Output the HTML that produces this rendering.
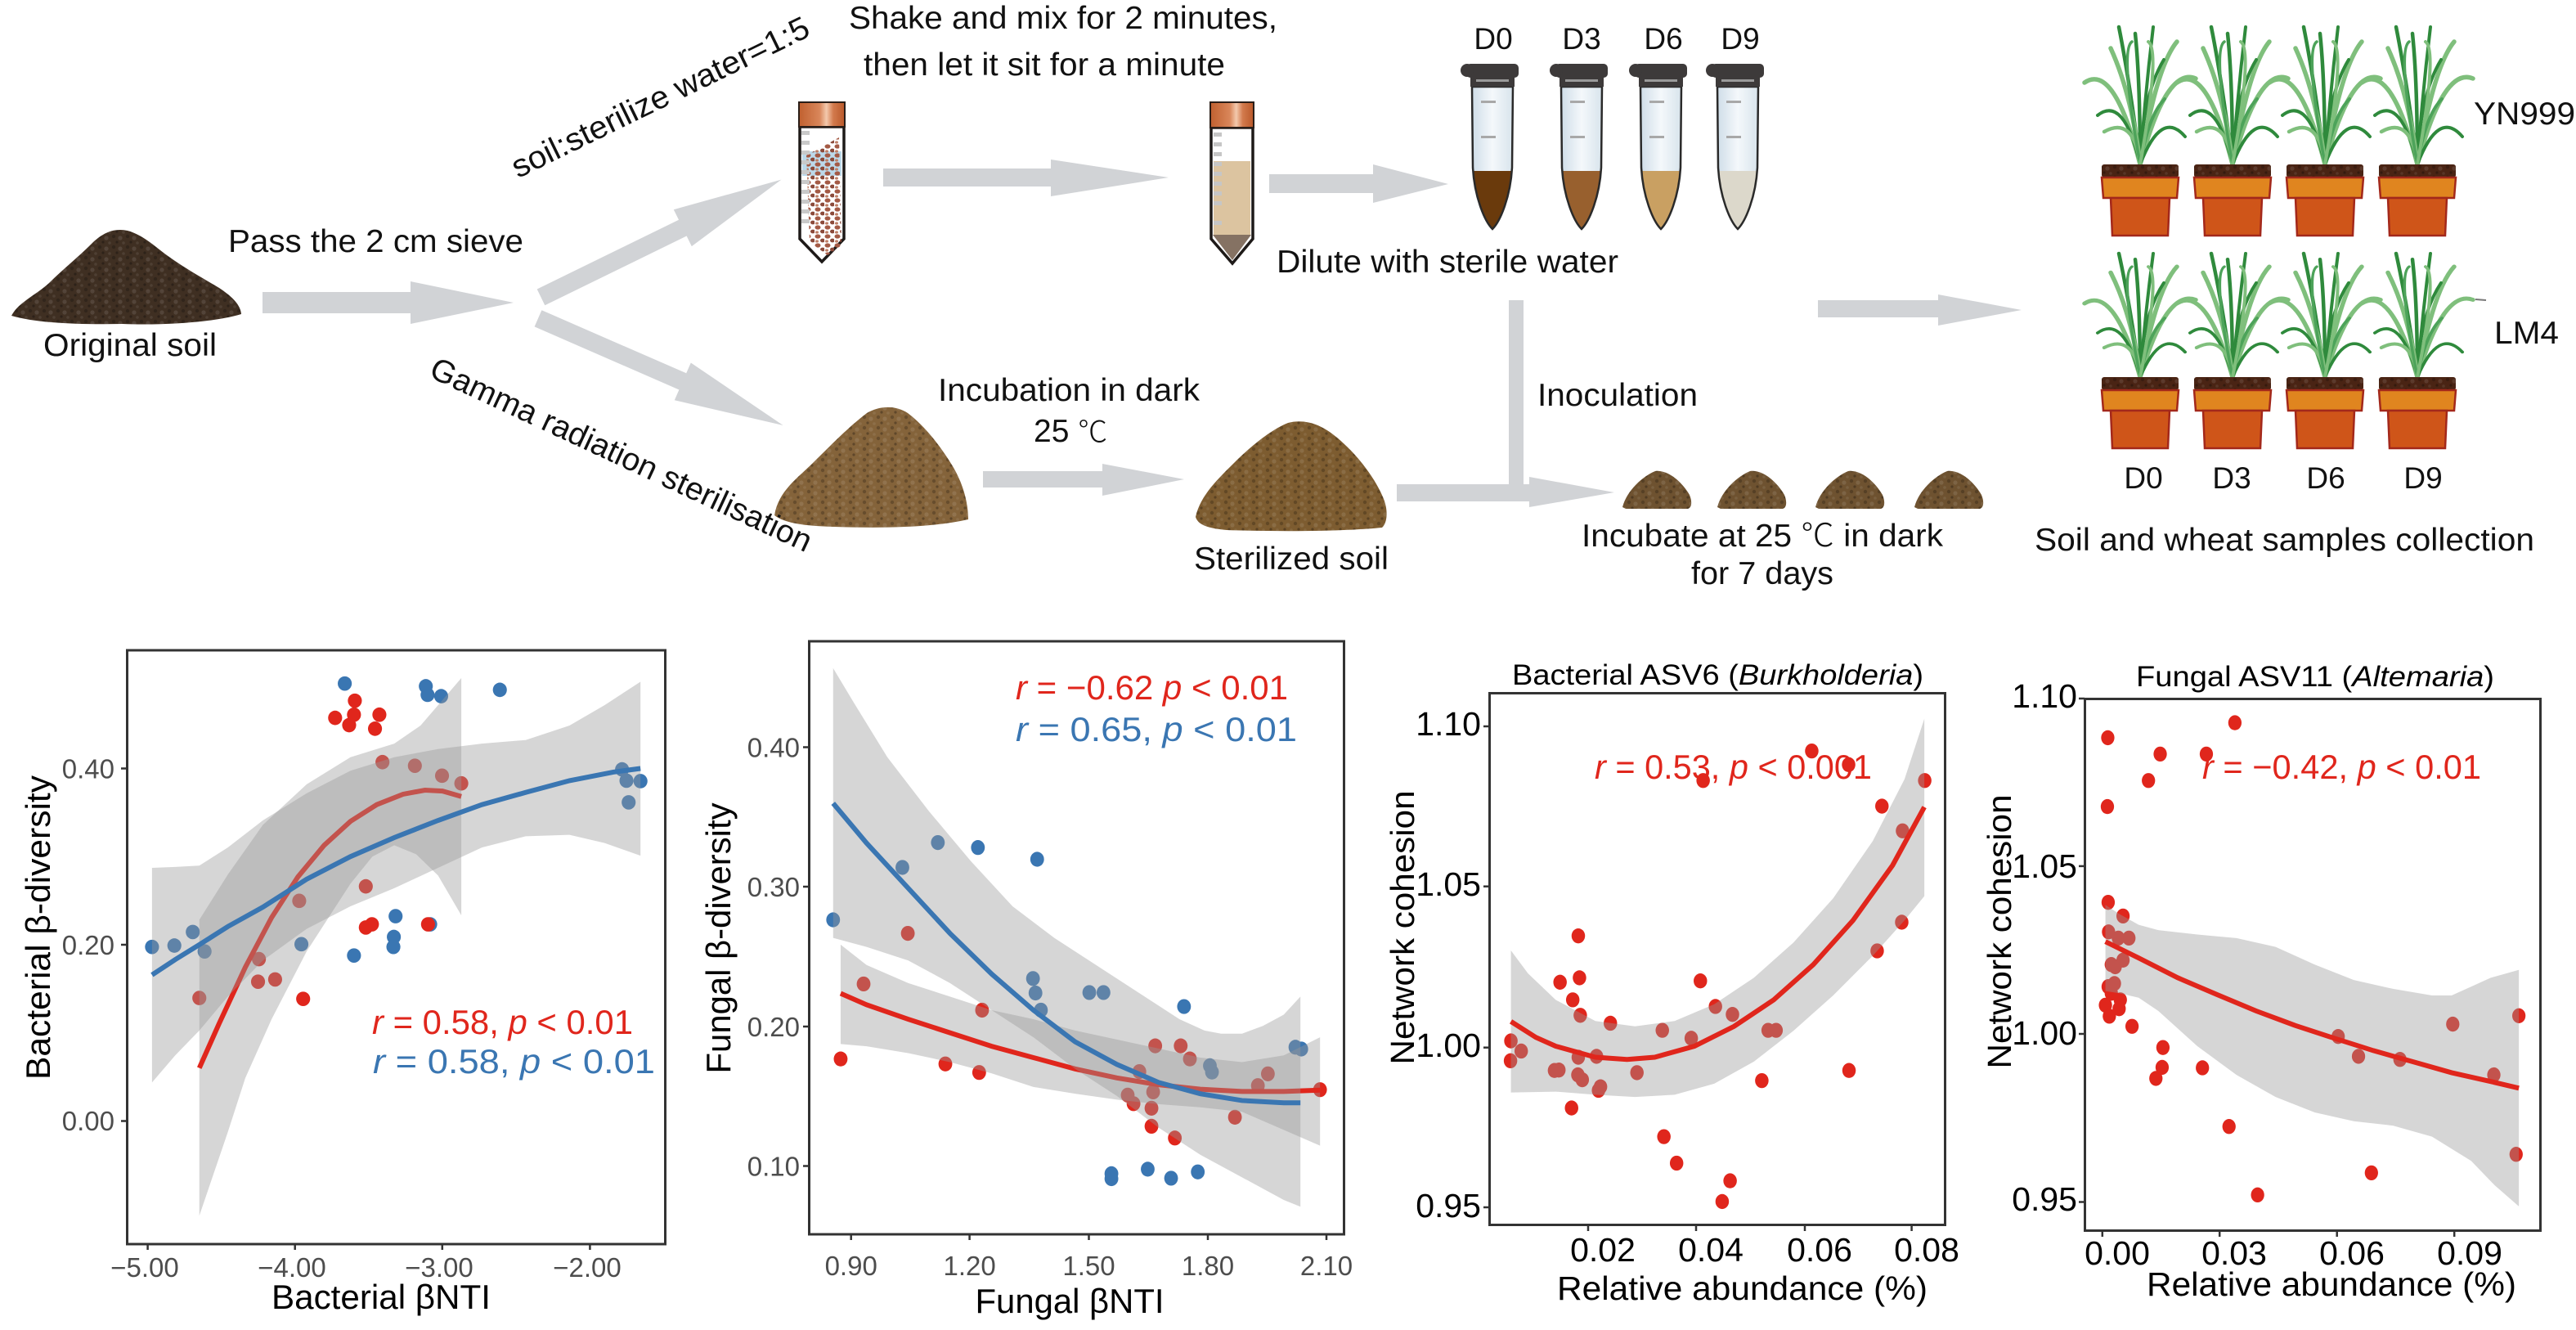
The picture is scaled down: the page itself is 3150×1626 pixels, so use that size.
<!DOCTYPE html>
<html><head><meta charset="utf-8"><style>
html,body{margin:0;padding:0;background:#fff;}
svg{display:block;}
text{font-family:"Liberation Sans","Noto Sans CJK SC",sans-serif;}
</style></head><body>
<svg width="3150" height="1626" viewBox="0 0 3150 1626" xmlns="http://www.w3.org/2000/svg">
<defs>
 <pattern id="tex" width="17" height="13" patternUnits="userSpaceOnUse">
  <circle cx="3" cy="3" r="2.2" fill="#000" opacity=".22"/>
  <circle cx="11" cy="5" r="2.6" fill="#fff" opacity=".10"/>
  <circle cx="7" cy="10" r="1.6" fill="#000" opacity=".28"/>
  <circle cx="15" cy="11" r="1.8" fill="#fff" opacity=".08"/>
 </pattern>
 <pattern id="parts" width="12" height="11" patternUnits="userSpaceOnUse">
  <ellipse cx="4" cy="3" rx="3.5" ry="2.6" fill="#a45a45"/>
  <ellipse cx="10" cy="8" rx="3" ry="2.4" fill="#8b4a3a"/>
  <ellipse cx="3" cy="9" rx="2" ry="1.6" fill="#c08068"/>
 </pattern>
 <linearGradient id="tubeG" x1="0" x2="1" y1="0" y2="0">
  <stop offset="0" stop-color="#cfdde8"/><stop offset=".5" stop-color="#f4f8fb"/><stop offset="1" stop-color="#d8e4ec"/>
 </linearGradient>
 <linearGradient id="capG" x1="0" x2="1" y1="0" y2="0">
  <stop offset="0" stop-color="#c0602f"/><stop offset=".45" stop-color="#d9865a"/><stop offset=".6" stop-color="#f3c9ad"/><stop offset=".75" stop-color="#d27a4c"/><stop offset="1" stop-color="#b9582a"/>
 </linearGradient>
 <g id="plant" fill="none" stroke-linecap="round">
  <path d="M0,0 Q-13,-103 -26,-168" stroke="#2f8a3c" stroke-width="4.5"/>
  <path d="M0,0 Q-32,-125 -68,-100" stroke="#7fbf7c" stroke-width="5.5"/>
  <path d="M0,0 Q-20,-85 -52,-60" stroke="#2f8a3c" stroke-width="4"/>
  <path d="M0,0 Q0,-103 -6,-160" stroke="#2f8a3c" stroke-width="4.5"/>
  <path d="M0,0 Q6,-85 16,-168" stroke="#2f8a3c" stroke-width="4"/>
  <path d="M0,0 Q20,-120 45,-150" stroke="#7fbf7c" stroke-width="5.5"/>
  <path d="M0,0 Q32,-120 68,-105" stroke="#7fbf7c" stroke-width="5.5"/>
  <path d="M0,0 Q26,-68 55,-34" stroke="#2f8a3c" stroke-width="4"/>
  <path d="M0,0 Q3,-85 29,-128" stroke="#2f8a3c" stroke-width="4"/>
  <path d="M0,0 Q-10,-85 -36,-142" stroke="#7fbf7c" stroke-width="5.5"/>
  <path d="M0,0 Q-8,-60 -44,-40" stroke="#7fbf7c" stroke-width="4.5"/>
  <path d="M0,0 Q10,-60 30,-80" stroke="#4da35a" stroke-width="4"/>
  <path d="M0,0 Q-25,-140 -10,-150" stroke="#4da35a" stroke-width="3.5"/>
  <path d="M0,0 Q25,-140 10,-150" stroke="#7fbf7c" stroke-width="4"/>
 </g>
 <g id="pot">
  <rect x="-47" y="0" width="94" height="16" rx="3" fill="#4a2414"/>
  <rect x="-47" y="0" width="94" height="16" rx="3" fill="url(#tex)"/>
  <path d="M-47,16 L47,16 L45,41 L-45,41 Z" fill="#e0851f" stroke="#a3281b" stroke-width="2.5"/>
  <path d="M-36,41 L36,41 L34,87 L-34,87 Z" fill="#cf5519" stroke="#a3281b" stroke-width="2.5"/>
 </g>
</defs>

<!-- ===== TOP SCHEMATIC ===== -->
<g fill="#d1d3d6">
 <polygon points="321,357 502,357 502,344 628,370 502,396 502,383 321,383"/>
 <polygon points="656.7,353.5 830,268.7 823.8,256.2 955.4,219.6 845.8,301.1 839.6,288.5 666.3,373.3"/>
 <polygon points="662.4,379.2 839.2,456.3 844.8,443.5 957.6,520 824.8,489.3 830.4,476.5 653.6,399.4"/>
 <polygon points="1080,206 1285,206 1285,195 1429,217 1285,240 1285,228 1080,228"/>
 <polygon points="1552,213 1679,213 1679,201 1771,225 1679,248 1679,236 1552,236"/>
 <polygon points="1202,576 1348,576 1348,567 1448,586 1348,606 1348,596 1202,596"/>
 <rect x="1845" y="367" width="18" height="246"/>
 <polygon points="1708,592 1870,592 1870,583 1974,602 1870,620 1870,613 1708,613"/>
 <polygon points="2223,367 2370,367 2370,360 2472,379 2370,398 2370,388 2223,388"/>
</g>

<!-- soil piles -->
<path d="M14,386 C22,370 45,360 60,346 C76,330 96,314 112,298 C124,286 138,278 156,282 C174,287 188,300 204,312 C226,328 248,340 268,352 C283,362 294,372 295,384 C262,394 200,398 150,396 C95,397 45,395 14,386 Z" fill="#3f2f22"/>
<path d="M14,386 C22,370 45,360 60,346 C76,330 96,314 112,298 C124,286 138,278 156,282 C174,287 188,300 204,312 C226,328 248,340 268,352 C283,362 294,372 295,384 C262,394 200,398 150,396 C95,397 45,395 14,386 Z" fill="url(#tex)"/>
<path d="M947,630 C952,600 975,585 995,565 C1015,545 1040,520 1060,505 C1075,496 1095,495 1110,505 C1130,520 1150,545 1165,570 C1178,592 1184,615 1184,635 C1140,645 1080,646 1020,644 C985,643 960,640 947,630 Z" fill="#84633a"/>
<path d="M947,630 C952,600 975,585 995,565 C1015,545 1040,520 1060,505 C1075,496 1095,495 1110,505 C1130,520 1150,545 1165,570 C1178,592 1184,615 1184,635 C1140,645 1080,646 1020,644 C985,643 960,640 947,630 Z" fill="url(#tex)"/>
<path d="M1462,632 C1468,605 1490,585 1510,565 C1530,545 1555,525 1575,517 C1595,512 1615,518 1635,535 C1660,556 1682,585 1692,610 C1698,625 1696,640 1690,645 C1640,650 1560,650 1500,648 C1478,646 1465,642 1462,632 Z" fill="#7d5c30"/>
<path d="M1462,632 C1468,605 1490,585 1510,565 C1530,545 1555,525 1575,517 C1595,512 1615,518 1635,535 C1660,556 1682,585 1692,610 C1698,625 1696,640 1690,645 C1640,650 1560,650 1500,648 C1478,646 1465,642 1462,632 Z" fill="url(#tex)"/>
<g fill="#6e5230">
 <path d="M1984,620 C1989,600 2009,582 2024,576 C2039,574 2056,588 2066,605 C2070,615 2068,621 2064,622 L1988,622 Z"/>
 <path d="M2100,620 C2105,600 2125,582 2140,576 C2155,574 2172,588 2182,605 C2186,615 2184,621 2180,622 L2104,622 Z"/>
 <path d="M2220,620 C2225,600 2245,582 2260,576 C2275,574 2292,588 2302,605 C2306,615 2304,621 2300,622 L2224,622 Z"/>
 <path d="M2341,620 C2346,600 2366,582 2381,576 C2396,574 2413,588 2423,605 C2427,615 2425,621 2421,622 L2345,622 Z"/>
</g>
<g fill="url(#tex)">
 <path d="M1984,620 C1989,600 2009,582 2024,576 C2039,574 2056,588 2066,605 C2070,615 2068,621 2064,622 L1988,622 Z"/>
 <path d="M2100,620 C2105,600 2125,582 2140,576 C2155,574 2172,588 2182,605 C2186,615 2184,621 2180,622 L2104,622 Z"/>
 <path d="M2220,620 C2225,600 2245,582 2260,576 C2275,574 2292,588 2302,605 C2306,615 2304,621 2300,622 L2224,622 Z"/>
 <path d="M2341,620 C2346,600 2366,582 2381,576 C2396,574 2413,588 2423,605 C2427,615 2425,621 2421,622 L2345,622 Z"/>
</g>

<!-- falcon tube 1 -->
<path d="M978,155 L1032,155 L1032,292 L1005,320 L978,292 Z" fill="#fff" stroke="#1e1a18" stroke-width="3.5"/>
<rect x="981" y="185" width="48" height="30" fill="#bcd9ea"/>
<path d="M986,190 L1026,168 L1029,300 L1012,312 L990,296 Z" fill="url(#parts)"/>
<g fill="#c9c9c9"><rect x="980" y="160" width="10" height="5"/><rect x="980" y="172" width="10" height="5"/><rect x="980" y="184" width="10" height="5"/><rect x="980" y="196" width="10" height="5"/><rect x="980" y="208" width="10" height="5"/><rect x="980" y="220" width="10" height="5"/><rect x="980" y="232" width="10" height="5"/><rect x="980" y="244" width="10" height="5"/><rect x="980" y="256" width="10" height="5"/><rect x="980" y="268" width="10" height="5"/></g>
<rect x="977" y="125" width="56" height="30" fill="url(#capG)" stroke="#2a1e18" stroke-width="2"/>
<!-- falcon tube 2 -->
<path d="M1481,156 L1532,156 L1532,292 L1507,322 L1481,292 Z" fill="#fff" stroke="#1e1a18" stroke-width="3.5"/>
<rect x="1484" y="197" width="45" height="92" fill="#dcc4a0"/>
<path d="M1483,287 L1530,287 L1507,318 Z" fill="#857263"/>
<g fill="#c6c6c6"><rect x="1484" y="162" width="10" height="5"/><rect x="1484" y="174" width="10" height="5"/><rect x="1484" y="186" width="10" height="5"/><rect x="1484" y="198" width="10" height="5"/><rect x="1484" y="210" width="10" height="5"/><rect x="1484" y="222" width="10" height="5"/><rect x="1484" y="234" width="10" height="5"/><rect x="1484" y="246" width="10" height="5"/><rect x="1484" y="270" width="10" height="5"/></g>
<rect x="1480" y="125" width="53" height="31" fill="url(#capG)" stroke="#2a1e18" stroke-width="2"/>

<!-- eppendorf tubes -->
<g transform="translate(1825,0)">
 <path d="M-25,106 L25,106 L24,205 C22,240 10,270 0,280 C-10,270 -22,240 -24,205 Z" fill="url(#tubeG)"/>
 <path d="M-24,209 L24,209 C22,240 10,270 0,280 C-10,270 -22,240 -24,209 Z" fill="#6a3a0c"/>
 <path d="M-25,106 L25,106 L24,205 C22,240 10,270 0,280 C-10,270 -22,240 -24,205 Z" fill="none" stroke="#2a2a2a" stroke-width="2.5"/>
 <rect x="-14" y="123" width="18" height="3" fill="#a8a8a8"/><rect x="-14" y="166" width="18" height="3" fill="#a8a8a8"/>
 <rect x="-32" y="78" width="64" height="17" rx="5" fill="#3d3a3a"/><circle cx="-31" cy="86" r="8" fill="#3d3a3a"/>
 <rect x="-27" y="93" width="54" height="13" fill="#3d3a3a"/><rect x="-20" y="97" width="40" height="3" fill="#9a9a9a"/>
</g>
<g transform="translate(1934,0)">
 <path d="M-25,106 L25,106 L24,205 C22,240 10,270 0,280 C-10,270 -22,240 -24,205 Z" fill="url(#tubeG)"/>
 <path d="M-24,209 L24,209 C22,240 10,270 0,280 C-10,270 -22,240 -24,209 Z" fill="#98602e"/>
 <path d="M-25,106 L25,106 L24,205 C22,240 10,270 0,280 C-10,270 -22,240 -24,205 Z" fill="none" stroke="#2a2a2a" stroke-width="2.5"/>
 <rect x="-14" y="123" width="18" height="3" fill="#a8a8a8"/><rect x="-14" y="166" width="18" height="3" fill="#a8a8a8"/>
 <rect x="-32" y="78" width="64" height="17" rx="5" fill="#3d3a3a"/><circle cx="-31" cy="86" r="8" fill="#3d3a3a"/>
 <rect x="-27" y="93" width="54" height="13" fill="#3d3a3a"/><rect x="-20" y="97" width="40" height="3" fill="#9a9a9a"/>
</g>
<g transform="translate(2031,0)">
 <path d="M-25,106 L25,106 L24,205 C22,240 10,270 0,280 C-10,270 -22,240 -24,205 Z" fill="url(#tubeG)"/>
 <path d="M-24,209 L24,209 C22,240 10,270 0,280 C-10,270 -22,240 -24,209 Z" fill="#c9a062"/>
 <path d="M-25,106 L25,106 L24,205 C22,240 10,270 0,280 C-10,270 -22,240 -24,205 Z" fill="none" stroke="#2a2a2a" stroke-width="2.5"/>
 <rect x="-14" y="123" width="18" height="3" fill="#a8a8a8"/><rect x="-14" y="166" width="18" height="3" fill="#a8a8a8"/>
 <rect x="-32" y="78" width="64" height="17" rx="5" fill="#3d3a3a"/><circle cx="-31" cy="86" r="8" fill="#3d3a3a"/>
 <rect x="-27" y="93" width="54" height="13" fill="#3d3a3a"/><rect x="-20" y="97" width="40" height="3" fill="#9a9a9a"/>
</g>
<g transform="translate(2125,0)">
 <path d="M-25,106 L25,106 L24,205 C22,240 10,270 0,280 C-10,270 -22,240 -24,205 Z" fill="url(#tubeG)"/>
 <path d="M-24,209 L24,209 C22,240 10,270 0,280 C-10,270 -22,240 -24,209 Z" fill="#dcd8cb"/>
 <path d="M-25,106 L25,106 L24,205 C22,240 10,270 0,280 C-10,270 -22,240 -24,205 Z" fill="none" stroke="#2a2a2a" stroke-width="2.5"/>
 <rect x="-14" y="123" width="18" height="3" fill="#a8a8a8"/><rect x="-14" y="166" width="18" height="3" fill="#a8a8a8"/>
 <rect x="-32" y="78" width="64" height="17" rx="5" fill="#3d3a3a"/><circle cx="-31" cy="86" r="8" fill="#3d3a3a"/>
 <rect x="-27" y="93" width="54" height="13" fill="#3d3a3a"/><rect x="-20" y="97" width="40" height="3" fill="#9a9a9a"/>
</g>

<!-- plants and pots -->
<use href="#plant" transform="translate(2617,201)"/>
<use href="#plant" transform="translate(2730,201)"/>
<use href="#plant" transform="translate(2843,201)"/>
<use href="#plant" transform="translate(2956,201)"/>
<use href="#pot" transform="translate(2617,201)"/>
<use href="#pot" transform="translate(2730,201)"/>
<use href="#pot" transform="translate(2843,201)"/>
<use href="#pot" transform="translate(2956,201)"/>
<use href="#plant" transform="translate(2617,461) scale(1,0.9)"/>
<use href="#plant" transform="translate(2730,461) scale(1,0.9)"/>
<use href="#plant" transform="translate(2843,461) scale(1,0.9)"/>
<use href="#plant" transform="translate(2956,461) scale(1,0.9)"/>
<use href="#pot" transform="translate(2617,461)"/>
<use href="#pot" transform="translate(2730,461)"/>
<use href="#pot" transform="translate(2843,461)"/>
<use href="#pot" transform="translate(2956,461)"/>
<line x1="3027" y1="366" x2="3040" y2="367" stroke="#777" stroke-width="2"/>

<!-- schematic text -->
<g fill="#111" font-size="39">
 <text x="53" y="435" textLength="212" lengthAdjust="spacingAndGlyphs">Original soil</text>
 <text x="279" y="308" textLength="361" lengthAdjust="spacingAndGlyphs">Pass the 2 cm sieve</text>
 <text transform="translate(807,118) rotate(-26)" text-anchor="middle" dy="14" textLength="400" lengthAdjust="spacingAndGlyphs">soil:sterilize water=1:5</text>
 <text transform="translate(760,555) rotate(25)" text-anchor="middle" dy="14" textLength="510" lengthAdjust="spacingAndGlyphs">Gamma radiation sterilisation</text>
 <text x="1038" y="35" textLength="524" lengthAdjust="spacingAndGlyphs">Shake and mix for 2 minutes,</text>
 <text x="1056" y="92" textLength="442" lengthAdjust="spacingAndGlyphs">then let it sit for a minute</text>
 <text x="1561" y="333" textLength="418" lengthAdjust="spacingAndGlyphs">Dilute with sterile water</text>
 <text x="1147" y="490" textLength="320" lengthAdjust="spacingAndGlyphs">Incubation in dark</text>
 <text x="1264" y="540">25 <tspan font-family="'Noto Sans CJK SC',sans-serif" font-weight="200" font-size="36">℃</tspan></text>
 <text x="1460" y="696" textLength="238" lengthAdjust="spacingAndGlyphs">Sterilized soil</text>
 <text x="1880" y="496" textLength="196" lengthAdjust="spacingAndGlyphs">Inoculation</text>
 <text x="1934" y="668" textLength="442" lengthAdjust="spacingAndGlyphs">Incubate at 25 <tspan font-family="'Noto Sans CJK SC',sans-serif" font-weight="200">℃</tspan> in dark</text>
 <text x="2068" y="714" textLength="174" lengthAdjust="spacingAndGlyphs">for 7 days</text>
 <text x="2488" y="673" textLength="611" lengthAdjust="spacingAndGlyphs">Soil and wheat samples collection</text>
 <text x="3025" y="152" textLength="124" lengthAdjust="spacingAndGlyphs">YN999</text>
 <text x="3050" y="420" textLength="79" lengthAdjust="spacingAndGlyphs">LM4</text>
</g>
<g fill="#111" font-size="37" text-anchor="middle">
 <text x="1826" y="60">D0</text><text x="1934" y="60">D3</text><text x="2034" y="60">D6</text><text x="2128" y="60">D9</text>
 <text x="2621" y="597">D0</text><text x="2729" y="597">D3</text><text x="2844" y="597">D6</text><text x="2963" y="597">D9</text>
</g>

<!-- ===== CHART 1 ===== -->
<g transform="matrix(0.5357 0 0 0.5523 0 760)">
 <g fill="#3a76b2">
  <circle cx="787" cy="137" r="16"/><circle cx="972" cy="143" r="16"/><circle cx="976" cy="162" r="16"/><circle cx="1007" cy="165" r="16"/><circle cx="1141" cy="151" r="16"/><circle cx="1420" cy="327" r="16"/><circle cx="1430" cy="352" r="16"/><circle cx="1462" cy="353" r="16"/><circle cx="1435" cy="400" r="16"/><circle cx="903" cy="652" r="16"/><circle cx="899" cy="698" r="16"/><circle cx="898" cy="720" r="16"/><circle cx="982" cy="670" r="16"/><circle cx="808" cy="739" r="16"/><circle cx="688" cy="714" r="16"/><circle cx="347" cy="720" r="16"/><circle cx="398" cy="717" r="16"/><circle cx="440" cy="687" r="16"/><circle cx="467" cy="730" r="16"/>
 </g>
 <g fill="#e0261c">
  <circle cx="810" cy="175" r="16"/><circle cx="765" cy="213" r="16"/><circle cx="808" cy="206" r="16"/><circle cx="797" cy="229" r="16"/><circle cx="866" cy="206" r="16"/><circle cx="856" cy="237" r="16"/><circle cx="835" cy="677" r="16"/><circle cx="849" cy="670" r="16"/><circle cx="977" cy="670" r="16"/><circle cx="628" cy="792" r="16"/><circle cx="692" cy="835" r="16"/><circle cx="873" cy="311" r="16"/><circle cx="947" cy="319" r="16"/><circle cx="1009" cy="341" r="16"/><circle cx="1053" cy="358" r="16"/><circle cx="835" cy="586" r="16"/><circle cx="683" cy="618" r="16"/><circle cx="591" cy="747" r="16"/><circle cx="589" cy="797" r="16"/><circle cx="455" cy="833" r="16"/>
 </g>
 <path d="M455,660 L520,560 L600,450 L700,360 L800,300 L900,270 L960,230 L1000,185 L1053,125 L1053,650 L1000,562 L950,515 L900,495 L850,520 L800,580 L700,730 L620,880 L560,1010 L520,1130 L455,1315 Z" fill="#999" fill-opacity="0.4"/>
 <path d="M455,988 L500,890 L560,765 L620,655 L680,565 L740,495 L800,442 L860,405 L920,382 L970,373 L1010,375 L1053,387" fill="none" stroke="#e0261c" stroke-width="6" vector-effect="non-scaling-stroke"/>
 <path d="M347,545 L400,543 L455,540 L520,500 L600,440 L700,380 L800,330 L900,300 L1000,282 L1100,270 L1200,262 L1300,230 L1380,185 L1462,133 L1462,518 L1380,490 L1300,472 L1200,475 L1100,500 L1000,545 L900,590 L800,630 L700,680 L600,750 L520,830 L455,905 L400,960 L347,1020 Z" fill="#999" fill-opacity="0.4"/>
 <path d="M347,782 L400,748 L455,715 L520,675 L600,632 L700,570 L800,520 L900,478 L1000,440 L1100,405 L1200,378 L1300,352 L1400,333 L1462,325" fill="none" stroke="#3a76b2" stroke-width="6" vector-effect="non-scaling-stroke"/>
</g>
<rect x="155.5" y="795" width="658" height="726" fill="none" stroke="#333" stroke-width="3"/>
<g stroke="#333" stroke-width="2.5">
 <line x1="148" y1="939.5" x2="155" y2="939.5"/><line x1="148" y1="1155" x2="155" y2="1155"/><line x1="148" y1="1370.5" x2="155" y2="1370.5"/>
 <line x1="180.6" y1="1521" x2="180.6" y2="1528"/><line x1="360.7" y1="1521" x2="360.7" y2="1528"/><line x1="540.8" y1="1521" x2="540.8" y2="1528"/><line x1="721.4" y1="1521" x2="721.4" y2="1528"/>
</g>
<g fill="#4d4d4d" font-size="33">
 <text x="140" y="951.5" text-anchor="end">0.40</text><text x="140" y="1167" text-anchor="end">0.20</text><text x="140" y="1382" text-anchor="end">0.00</text>
 <text x="177" y="1561" text-anchor="middle">−5.00</text><text x="357" y="1561" text-anchor="middle">−4.00</text><text x="537" y="1561" text-anchor="middle">−3.00</text><text x="718" y="1561" text-anchor="middle">−2.00</text>
</g>
<text x="466" y="1600" font-size="42" text-anchor="middle" fill="#000" textLength="268" lengthAdjust="spacingAndGlyphs">Bacterial βNTI</text>
<text transform="translate(61,1134) rotate(-90)" font-size="42" text-anchor="middle" fill="#000" textLength="372" lengthAdjust="spacingAndGlyphs">Bacterial β-diversity</text>
<text x="455" y="1264" font-size="42" fill="#e0261c" textLength="319" lengthAdjust="spacingAndGlyphs"><tspan font-style="italic">r</tspan> = 0.58, <tspan font-style="italic">p</tspan> &lt; 0.01</text>
<text x="456" y="1312" font-size="42" fill="#3a76b2" textLength="345" lengthAdjust="spacingAndGlyphs"><tspan font-style="italic">r</tspan> = 0.58, <tspan font-style="italic">p</tspan> &lt; 0.01</text>

<!-- ===== CHART 2 ===== -->
<g transform="matrix(0.5102 0 0 0.5523 830 760)">
 <g fill="#3a76b2">
  <circle cx="370" cy="660" r="16.5"/><circle cx="536" cy="544" r="16.5"/><circle cx="621" cy="489" r="16.5"/><circle cx="717" cy="500" r="16.5"/><circle cx="859" cy="526" r="16.5"/><circle cx="849" cy="790" r="16.5"/><circle cx="855" cy="822" r="16.5"/><circle cx="868" cy="860" r="16.5"/><circle cx="984" cy="821" r="16.5"/><circle cx="1018" cy="821" r="16.5"/><circle cx="1211" cy="852" r="16.5"/><circle cx="1273" cy="983" r="16.5"/><circle cx="1278" cy="997" r="16.5"/><circle cx="1478" cy="942" r="16.5"/><circle cx="1492" cy="946" r="16.5"/><circle cx="1037" cy="1222" r="16.5"/><circle cx="1037" cy="1233" r="16.5"/><circle cx="1124" cy="1212" r="16.5"/><circle cx="1180" cy="1232" r="16.5"/><circle cx="1244" cy="1218" r="16.5"/>
 </g>
 <g fill="#e0261c">
  <circle cx="388" cy="968" r="16.5"/><circle cx="443" cy="802" r="16.5"/><circle cx="549" cy="690" r="16.5"/><circle cx="727" cy="860" r="16.5"/><circle cx="639" cy="979" r="16.5"/><circle cx="720" cy="998" r="16.5"/><circle cx="1090" cy="1067" r="16.5"/><circle cx="1076" cy="1048" r="16.5"/><circle cx="1104" cy="996" r="16.5"/><circle cx="1137" cy="1041" r="16.5"/><circle cx="1133" cy="1077" r="16.5"/><circle cx="1142" cy="939" r="16.5"/><circle cx="1203" cy="939" r="16.5"/><circle cx="1225" cy="968" r="16.5"/><circle cx="1133" cy="1117" r="16.5"/><circle cx="1189" cy="1143" r="16.5"/><circle cx="1333" cy="1097" r="16.5"/><circle cx="1388" cy="1027" r="16.5"/><circle cx="1412" cy="1001" r="16.5"/><circle cx="1537" cy="1036" r="16.5"/>
 </g>
 <path d="M388,715 L450,760 L550,800 L650,830 L750,860 L850,880 L950,905 L1050,925 L1150,945 L1250,965 L1350,975 L1450,960 L1537,920 L1537,1160 L1450,1125 L1350,1085 L1250,1075 L1150,1068 L1050,1058 L950,1045 L850,1030 L750,1000 L650,975 L550,955 L450,940 L388,935 Z" fill="#999" fill-opacity="0.4"/>
 <path d="M388,823 L450,848 L550,880 L650,910 L750,940 L850,965 L950,990 L1050,1010 L1150,1025 L1250,1035 L1350,1040 L1450,1040 L1537,1037" fill="none" stroke="#e0261c" stroke-width="6" vector-effect="non-scaling-stroke"/>
 <path d="M370,103 L420,180 L500,300 L600,420 L700,530 L800,630 L900,700 L1000,760 L1100,820 L1200,880 L1260,905 L1300,912 L1350,912 L1400,895 L1450,870 L1490,830 L1490,1295 L1450,1280 L1350,1230 L1250,1180 L1150,1120 L1050,1050 L950,990 L850,920 L750,860 L650,800 L550,750 L450,720 L370,700 Z" fill="#999" fill-opacity="0.4"/>
 <path d="M370,402 L450,490 L550,590 L650,690 L750,780 L850,860 L950,930 L1050,980 L1150,1020 L1250,1045 L1350,1060 L1450,1065 L1490,1065" fill="none" stroke="#3a76b2" stroke-width="6" vector-effect="non-scaling-stroke"/>
</g>
<rect x="989.5" y="784" width="654" height="725" fill="none" stroke="#333" stroke-width="3"/>
<g stroke="#333" stroke-width="2.5">
 <line x1="982" y1="913.5" x2="989" y2="913.5"/><line x1="982" y1="1084" x2="989" y2="1084"/><line x1="982" y1="1255" x2="989" y2="1255"/><line x1="982" y1="1425.5" x2="989" y2="1425.5"/>
 <line x1="1040.7" y1="1509" x2="1040.7" y2="1516"/><line x1="1185.6" y1="1509" x2="1185.6" y2="1516"/><line x1="1331.5" y1="1509" x2="1331.5" y2="1516"/><line x1="1477" y1="1509" x2="1477" y2="1516"/><line x1="1622" y1="1509" x2="1622" y2="1516"/>
</g>
<g fill="#4d4d4d" font-size="33">
 <text x="978" y="925.5" text-anchor="end">0.40</text><text x="978" y="1096" text-anchor="end">0.30</text><text x="978" y="1267" text-anchor="end">0.20</text><text x="978" y="1437.5" text-anchor="end">0.10</text>
 <text x="1040.7" y="1559" text-anchor="middle">0.90</text><text x="1185.6" y="1559" text-anchor="middle">1.20</text><text x="1331.5" y="1559" text-anchor="middle">1.50</text><text x="1477" y="1559" text-anchor="middle">1.80</text><text x="1622" y="1559" text-anchor="middle">2.10</text>
</g>
<text x="1308" y="1605" font-size="42" text-anchor="middle" fill="#000" textLength="231" lengthAdjust="spacingAndGlyphs">Fungal βNTI</text>
<text transform="translate(893,1147) rotate(-90)" font-size="42" text-anchor="middle" fill="#000" textLength="331" lengthAdjust="spacingAndGlyphs">Fungal β-diversity</text>
<text x="1242" y="855" font-size="42" fill="#e0261c" textLength="333" lengthAdjust="spacingAndGlyphs"><tspan font-style="italic">r</tspan> = −0.62 <tspan font-style="italic">p</tspan> &lt; 0.01</text>
<text x="1242" y="906" font-size="42" fill="#3a76b2" textLength="344" lengthAdjust="spacingAndGlyphs"><tspan font-style="italic">r</tspan> = 0.65, <tspan font-style="italic">p</tspan> &lt; 0.01</text>

<!-- ===== CHART 3 ===== -->
<g transform="matrix(0.4847 0 0 0.5395 1660 780)">
 <g fill="#e0261c">
  <circle cx="387" cy="913" r="17"/><circle cx="386" cy="958" r="17"/><circle cx="413" cy="936" r="17"/><circle cx="497" cy="980" r="17"/><circle cx="508" cy="979" r="17"/><circle cx="511" cy="780" r="17"/><circle cx="543" cy="820" r="17"/><circle cx="540" cy="1065" r="17"/><circle cx="557" cy="675" r="17"/><circle cx="560" cy="770" r="17"/><circle cx="562" cy="855" r="17"/><circle cx="557" cy="950" r="17"/><circle cx="556" cy="990" r="17"/><circle cx="567" cy="1001" r="17"/><circle cx="603" cy="948" r="17"/><circle cx="608" cy="1025" r="17"/><circle cx="613" cy="1017" r="17"/><circle cx="638" cy="873" r="17"/><circle cx="705" cy="985" r="17"/><circle cx="769" cy="889" r="17"/><circle cx="773" cy="1130" r="17"/><circle cx="805" cy="1190" r="17"/><circle cx="842" cy="907" r="17"/><circle cx="865" cy="777" r="17"/><circle cx="872" cy="323" r="17"/><circle cx="903" cy="835" r="17"/><circle cx="940" cy="1230" r="17"/><circle cx="946" cy="853" r="17"/><circle cx="920" cy="1277" r="17"/><circle cx="1020" cy="1003" r="17"/><circle cx="1036" cy="889" r="17"/><circle cx="1056" cy="889" r="17"/><circle cx="1146" cy="256" r="17"/><circle cx="1239" cy="287" r="17"/><circle cx="1240" cy="980" r="17"/><circle cx="1311" cy="709" r="17"/><circle cx="1323" cy="381" r="17"/><circle cx="1373" cy="644" r="17"/><circle cx="1375" cy="437" r="17"/><circle cx="1431" cy="323" r="17"/>
 </g>
 <path d="M387,708 L430,760 L500,820 L600,868 L700,880 L800,868 L900,830 L1000,770 L1100,690 L1200,590 L1300,460 L1380,320 L1430,183 L1430,585 L1380,640 L1300,720 L1200,810 L1100,890 L1000,960 L900,1010 L800,1035 L700,1040 L600,1035 L500,1028 L387,1030 Z" fill="#999" fill-opacity="0.4"/>
 <path d="M387,869 L450,905 L500,925 L600,950 L680,955 L750,950 L850,925 L950,880 L1050,820 L1150,740 L1250,640 L1350,515 L1430,383" fill="none" stroke="#e0261c" stroke-width="6" vector-effect="non-scaling-stroke"/>
</g>
<rect x="1821.5" y="847.5" width="557" height="650" fill="none" stroke="#333" stroke-width="3"/>
<g stroke="#333" stroke-width="2.5">
 <line x1="1814" y1="888" x2="1821" y2="888"/><line x1="1814" y1="1083.7" x2="1821" y2="1083.7"/><line x1="1814" y1="1280.7" x2="1821" y2="1280.7"/><line x1="1814" y1="1476" x2="1821" y2="1476"/>
 <line x1="1942" y1="1497.5" x2="1942" y2="1505"/><line x1="2074" y1="1497.5" x2="2074" y2="1505"/><line x1="2207" y1="1497.5" x2="2207" y2="1505"/><line x1="2337.6" y1="1497.5" x2="2337.6" y2="1505"/>
</g>
<g fill="#000" font-size="41">
 <text x="1811" y="899" text-anchor="end">1.10</text><text x="1811" y="1095" text-anchor="end">1.05</text><text x="1811" y="1292" text-anchor="end">1.00</text><text x="1811" y="1488" text-anchor="end">0.95</text>
 <text x="1960" y="1542" text-anchor="middle">0.02</text><text x="2092" y="1542" text-anchor="middle">0.04</text><text x="2225" y="1542" text-anchor="middle">0.06</text><text x="2356" y="1542" text-anchor="middle">0.08</text>
 <text x="1904" y="1589" textLength="453" lengthAdjust="spacingAndGlyphs">Relative abundance (%)</text>
 <text transform="translate(1729,1134) rotate(-90)" text-anchor="middle" textLength="335" lengthAdjust="spacingAndGlyphs">Network cohesion</text>
</g>
<text x="1849" y="837" font-size="35" fill="#000" textLength="503" lengthAdjust="spacingAndGlyphs">Bacterial ASV6 (<tspan font-style="italic">Burkholderia</tspan>)</text>
<text x="1950" y="952" font-size="42" fill="#e0261c" textLength="339" lengthAdjust="spacingAndGlyphs"><tspan font-style="italic">r</tspan> = 0.53, <tspan font-style="italic">p</tspan> &lt; 0.001</text>

<!-- ===== CHART 4 ===== -->
<g transform="matrix(0.4783 0 0 0.5395 2400 780)">
 <g fill="#e0261c">
  <circle cx="371" cy="226" r="17"/><circle cx="370" cy="382" r="17"/><circle cx="505" cy="263" r="17"/><circle cx="475" cy="323" r="17"/><circle cx="623" cy="263" r="17"/><circle cx="696" cy="192" r="17"/><circle cx="372" cy="599" r="17"/><circle cx="410" cy="630" r="17"/><circle cx="373" cy="666" r="17"/><circle cx="398" cy="680" r="17"/><circle cx="425" cy="680" r="17"/><circle cx="410" cy="730" r="17"/><circle cx="380" cy="740" r="17"/><circle cx="390" cy="745" r="17"/><circle cx="388" cy="783" r="17"/><circle cx="372" cy="790" r="17"/><circle cx="380" cy="805" r="17"/><circle cx="403" cy="820" r="17"/><circle cx="365" cy="832" r="17"/><circle cx="400" cy="840" r="17"/><circle cx="375" cy="857" r="17"/><circle cx="433" cy="880" r="17"/><circle cx="512" cy="928" r="17"/><circle cx="510" cy="973" r="17"/><circle cx="494" cy="998" r="17"/><circle cx="613" cy="974" r="17"/><circle cx="681" cy="1107" r="17"/><circle cx="754" cy="1262" r="17"/><circle cx="960" cy="903" r="17"/><circle cx="1012" cy="948" r="17"/><circle cx="1118" cy="955" r="17"/><circle cx="1253" cy="875" r="17"/><circle cx="1358" cy="990" r="17"/><circle cx="1422" cy="856" r="17"/><circle cx="1415" cy="1170" r="17"/><circle cx="1045" cy="1212" r="17"/>
 </g>
 <path d="M365,605 L400,625 L450,650 L500,662 L600,672 L700,680 L800,700 L900,740 L1000,775 L1100,795 L1200,810 L1250,810 L1300,790 L1350,770 L1422,752 L1422,1288 L1360,1240 L1300,1185 L1200,1130 L1100,1105 L1000,1095 L900,1075 L800,1040 L700,990 L600,925 L500,845 L450,815 L400,805 L365,800 Z" fill="#999" fill-opacity="0.4"/>
 <path d="M365,688 L450,725 L550,770 L650,808 L750,845 L850,878 L950,907 L1050,935 L1150,960 L1250,985 L1350,1005 L1422,1020" fill="none" stroke="#e0261c" stroke-width="6" vector-effect="non-scaling-stroke"/>
</g>
<rect x="2549.5" y="854.5" width="557" height="650" fill="none" stroke="#333" stroke-width="3"/>
<g stroke="#333" stroke-width="2.5">
 <line x1="2542" y1="854" x2="2549" y2="854"/><line x1="2542" y1="1058.9" x2="2549" y2="1058.9"/><line x1="2542" y1="1264" x2="2549" y2="1264"/><line x1="2542" y1="1469.5" x2="2549" y2="1469.5"/>
 <line x1="2570.8" y1="1504.5" x2="2570.8" y2="1512"/><line x1="2714.2" y1="1504.5" x2="2714.2" y2="1512"/><line x1="2857.7" y1="1504.5" x2="2857.7" y2="1512"/><line x1="3001.2" y1="1504.5" x2="3001.2" y2="1512"/>
</g>
<g fill="#000" font-size="41">
 <text x="2540" y="865" text-anchor="end">1.10</text><text x="2540" y="1073" text-anchor="end">1.05</text><text x="2540" y="1277" text-anchor="end">1.00</text><text x="2540" y="1480" text-anchor="end">0.95</text>
 <text x="2589" y="1546" text-anchor="middle">0.00</text><text x="2732" y="1546" text-anchor="middle">0.03</text><text x="2876" y="1546" text-anchor="middle">0.06</text><text x="3020" y="1546" text-anchor="middle">0.09</text>
 <text x="2625" y="1584" textLength="452" lengthAdjust="spacingAndGlyphs">Relative abundance (%)</text>
 <text transform="translate(2459,1139) rotate(-90)" text-anchor="middle" textLength="335" lengthAdjust="spacingAndGlyphs">Network cohesion</text>
</g>
<text x="2612" y="839" font-size="35" fill="#000" textLength="438" lengthAdjust="spacingAndGlyphs">Fungal ASV11 (<tspan font-style="italic">Altemaria</tspan>)</text>
<text x="2693" y="952" font-size="42" fill="#e0261c" textLength="341" lengthAdjust="spacingAndGlyphs"><tspan font-style="italic">r</tspan> = −0.42, <tspan font-style="italic">p</tspan> &lt; 0.01</text>
</svg>
</body></html>
